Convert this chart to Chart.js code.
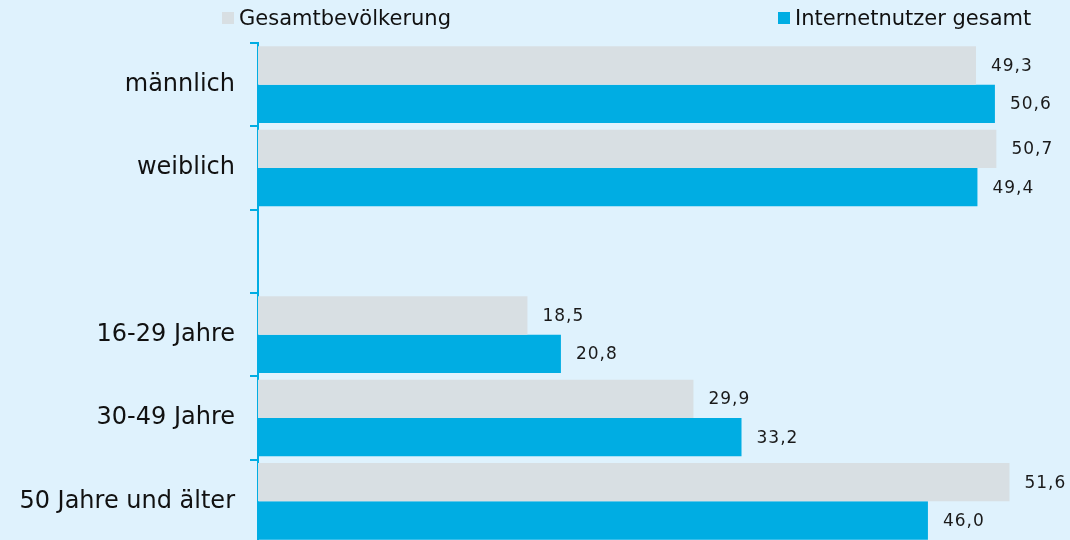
<!DOCTYPE html>
<html>
<head>
<meta charset="utf-8">
<script src="https://cdn.jsdelivr.net/npm/chart.js@4/dist/chart.umd.min.js"></script>
<style>
  html, body { margin: 0; padding: 0; background: #dff2fd; overflow: hidden; }
  #wrap { position: relative; width: 1070px; height: 540px; overflow: hidden; }
  #chart { display: block; }
  .leg { position: absolute; top: 6px; font: 21px "DejaVu Sans", sans-serif; color: #111; white-space: nowrap; }
  .leg i { display: inline-block; width: 12px; height: 12px; margin-right: 5px; vertical-align: 1px; }
</style>
</head>
<body>
<div id="wrap">
  <!-- the bottom category runs a few px past the picture edge in the original -->
  <canvas id="chart" width="1070" height="543"></canvas>
</div>
<script>
const categories = ['männlich', 'weiblich', '', '16-29 Jahre', '30-49 Jahre', '50 Jahre und älter'];
const gesamtbevoelkerung = [49.3, 50.7, null, 18.5, 29.9, 51.6];
const internetnutzer = [50.6, 49.4, null, 20.8, 33.2, 46.0];
const seriesNames = ['Gesamtbevölkerung', 'Internetnutzer gesamt'];
const seriesColors = ['#d8dfe3', '#00ade3'];

// legend items sit far apart in the original, so it is built as html
const legendLeft = [222, 778];
seriesNames.forEach(function(name, i){
  let d = document.createElement('div');
  d.className = 'leg';
  d.style.left = legendLeft[i] + 'px';
  d.innerHTML = '<i style="background:' + seriesColors[i] + '"></i>' + name;
  document.getElementById('wrap').appendChild(d);
});

const valueLabels = {
  id: 'valueLabels',
  afterDatasetsDraw(chart){
    const ctx = chart.ctx;
    ctx.save();
    ctx.font = '17px "DejaVu Sans", sans-serif';
    ctx.letterSpacing = '1px';
    ctx.fillStyle = '#1a1a1a';
    ctx.textBaseline = 'middle';
    ctx.textAlign = 'left';
    chart.data.datasets.forEach(function(ds, i){
      chart.getDatasetMeta(i).data.forEach(function(bar, j){
        const v = ds.data[j];
        if (v === null) return;
        ctx.fillText(v.toFixed(1).replace('.', ','), bar.x + 15, bar.y + 1);
      });
    });
    ctx.restore();
  }
};

new Chart(document.getElementById('chart'), {
  type: 'bar',
  data: {
    labels: categories,
    datasets: seriesNames.map(function(name, i){
      return {
        label: name,
        data: i === 0 ? gesamtbevoelkerung : internetnutzer,
        backgroundColor: seriesColors[i],
        borderWidth: 0,
        categoryPercentage: 0.92,
        barPercentage: 1.0
      };
    })
  },
  plugins: [valueLabels],
  options: {
    indexAxis: 'y',
    animation: false,
    responsive: false,
    maintainAspectRatio: false,
    layout: { padding: { top: 43, right: 11, bottom: 0, left: 0 } },
    plugins: {
      legend: { display: false },
      tooltip: { enabled: false }
    },
    scales: {
      x: {
        display: false,
        min: 0,
        max: 55
      },
      y: {
        afterFit: function(scale){
          scale.width = 258;
          scale.paddingTop = 0;
          scale.paddingBottom = 0;
        },
        border: { display: true, color: '#00ade3', width: 2 },
        grid: {
          display: true,
          offset: true,
          drawOnChartArea: false,
          color: '#00ade3',
          lineWidth: 2,
          tickLength: 8
        },
        ticks: {
          padding: 15,
          color: '#111',
          font: { family: '"DejaVu Sans", sans-serif', size: 24 }
        }
      }
    }
  }
});
</script>
</body>
</html>
